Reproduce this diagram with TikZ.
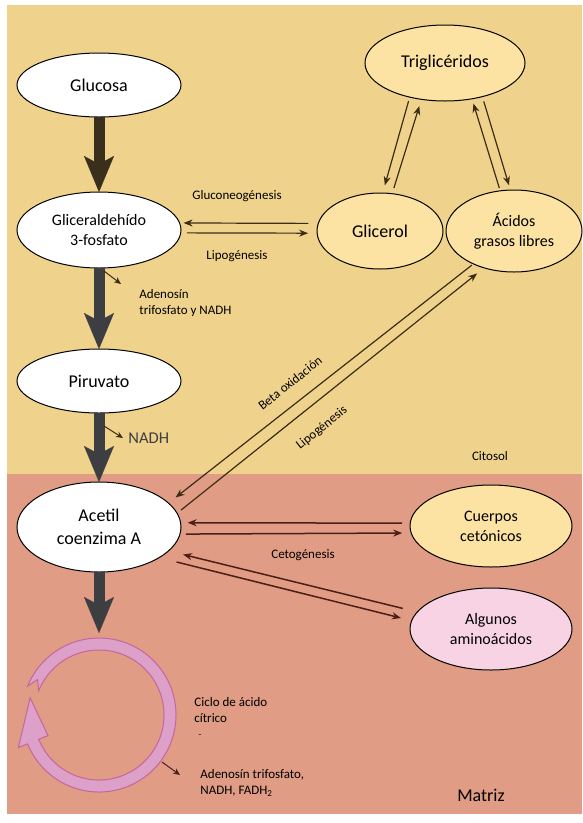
\documentclass[tikz,border=0pt]{standalone}
\usepackage{fontspec}
\setmainfont{Carlito}
\usepackage{tikz}
\usetikzlibrary{arrows.meta,shapes.geometric,calc,positioning}

\definecolor{citosol}{HTML}{EFD38C}
\definecolor{matriz}{HTML}{E09C84}
\definecolor{lightnode}{HTML}{FCE3A3}
\definecolor{pinknode}{HTML}{F8D3E4}
\definecolor{brownarrow}{HTML}{3A2F1D}
\definecolor{grayarrow}{HTML}{3D3E42}
\definecolor{linebrown}{HTML}{3B2C14}
\definecolor{linemaroon}{HTML}{4C1E18}
\definecolor{ringfill}{HTML}{DDA0C8}
\definecolor{ringedge}{HTML}{C2679F}

\begin{document}
\begin{tikzpicture}[x=1pt, y=-1pt, thick,
    main node/.style={ellipse, draw, line width=1pt, fill=white, inner sep=0pt,
      outer sep=0pt, align=center, font=\fontsize{18}{23}\selectfont},
    small node/.style={main node, font=\fontsize{16}{20}\selectfont},
    label text/.style={font=\fontsize{13}{16}\selectfont, inner sep=1pt, align=left},
    big arrow/.style={line width=11pt,
      -{Stealth[length=36pt, width=30pt, inset=8pt, line width=0.1pt]}},
    thin arrow/.style={line width=1.2pt, linebrown, -{Stealth[length=9pt, width=7pt]}},
    red arrow/.style={thin arrow, linemaroon, line width=1.5pt}]

  % fondo: citosol y matriz
  \useasboundingbox (0,0) rectangle (582,823);
  \fill[white] (0,0) rectangle (582,823);
  \fill[citosol] (7,5) rectangle (582,474);
  \fill[matriz] (7,474) rectangle (582,814);

  % columna izquierda
  \node[main node, minimum width=164pt, minimum height=64pt] (glu) at (99,85) {Glucosa};
  \node[small node, minimum width=164pt, minimum height=76pt] (gap) at (99,230) {Gliceraldehído\\3-fosfato};
  \node[main node, minimum width=164pt, minimum height=64pt] (pir) at (99,381) {Piruvato};
  \node[main node, minimum width=164pt, minimum height=90pt] (acet) at (99,527) {Acetil\\coenzima A};
  \coordinate (cyc) at (99,715);
  \coordinate (cyctop) at (99,633);

  % lado derecho
  \node[main node, fill=lightnode, minimum width=160pt, minimum height=76pt] (tri) at (445,63) {Triglicéridos};
  \node[main node, fill=lightnode, minimum width=126pt, minimum height=76pt] (glic) at (380,231) {Glicerol};
  \node[small node, fill=lightnode, minimum width=136pt, minimum height=82pt] (acid) at (514,231) {Ácidos\\grasos libres};
  \node[small node, fill=lightnode, minimum width=162pt, minimum height=82pt] (cuer) at (491,526) {Cuerpos\\cetónicos};
  \node[small node, fill=pinknode, minimum width=162pt, minimum height=82pt] (amino) at (491,629) {Algunos\\aminoácidos};

  % flechas gruesas
  \draw[big arrow, brownarrow] (glu) -- (gap);
  \draw[big arrow, grayarrow] (gap) -- (pir);
  \draw[big arrow, grayarrow] (pir) -- (acet);
  \draw[big arrow, grayarrow] (acet) -- (cyctop);

  % ciclo de acido citrico
  \filldraw[fill=ringfill, draw=ringedge, line width=1pt]
    ($(cyc)+(-158:77)$) arc[start angle=-158, end angle=158, radius=77]
    -- ($(cyc)+(158:87)$) -- ($(cyc)+(194:71)$) -- ($(cyc)+(158:55)$)
    -- ($(cyc)+(158:65)$) arc[start angle=158, end angle=-158, radius=65]
    -- ($(cyc)+(-150:71)$) -- cycle;

  % productos
  \node[label text, anchor=west] (atp1) at (138,303) {Adenosín\\trifosfato y NADH};
  \node[anchor=west, inner sep=1pt, text=grayarrow, font=\fontsize{16.5}{20}\selectfont] (nadh) at (127,438) {NADH};
  \node[label text, anchor=west] (ciclo) at (193,710) {Ciclo de ácido\\cítrico};
  \node[font=\fontsize{9}{10}\selectfont, inner sep=0pt] (guion) at (200,736) {-};
  \node[label text, anchor=west] (atp2) at (199,783) {Adenosín trifosfato,\\NADH, FADH\textsubscript{2}};
  \coordinate (p1) at (104,271);  \coordinate (q1) at (121,284);
  \coordinate (p2) at (104,426);  \coordinate (q2) at (123,438);
  \coordinate (p3) at (162,762);  \coordinate (q3) at (180,775);
  \draw[thin arrow, line width=1pt, -{Stealth[length=7pt, width=6pt]}] (p1) -- (q1);
  \draw[thin arrow, line width=1pt, -{Stealth[length=7pt, width=6pt]}] (p2) -- (q2);
  \draw[red arrow, line width=1pt, -{Stealth[length=7pt, width=6pt]}] (p3) -- (q3);

  % rotulos
  \node[label text] (gneo) at (237,196) {Gluconeogénesis};
  \node[label text] (lipo1) at (237,256) {Lipogénesis};
  \node[label text, rotate=38.5] (beta) at (290,383) {Beta oxidación};
  \node[label text, rotate=38.5] (lipo2) at (322,428) {Lipogénesis};
  \node[label text] (cito) at (490,456) {Citosol};
  \node[label text] (ceto) at (303,555) {Cetogénesis};
  \node[font=\fontsize{18}{22}\selectfont] (matr) at (481,795) {Matriz};

  % flechas finas
  \path[thin arrow]
    (tri.-136) edge[shorten <=4pt, shorten >=8pt] (glic.86)
    (glic.72)  edge[shorten <=6pt, shorten >=7pt] (tri.-123)
    (acid.109) edge[shorten <=3pt, shorten >=5pt] (tri.-53)
    (tri.-42)  edge[shorten <=5pt, shorten >=5pt] (acid.95)
    (glic.173) edge[shorten <=10pt, shorten >=4pt] (gap.5)
    (gap.-2)   edge[shorten <=6pt, shorten >=9pt] (glic.-178)
    (acid.-141) edge[shorten <=2pt, shorten >=9pt] (acet.19)
    (acet.10)  edge[shorten <=5pt, shorten >=9pt] (acid.-129);
  \path[red arrow]
    (cuer.178) edge[shorten <=8pt, shorten >=7pt] (acet.3)
    (acet.-5)  edge[shorten <=6pt, shorten >=9pt] (cuer.-175)
    (amino.167) edge[shorten <=15pt, shorten >=15pt] (acet.-19)
    (acet.-27) edge[shorten <=18pt, shorten >=11pt] (amino.174);
\end{tikzpicture}
\end{document}
